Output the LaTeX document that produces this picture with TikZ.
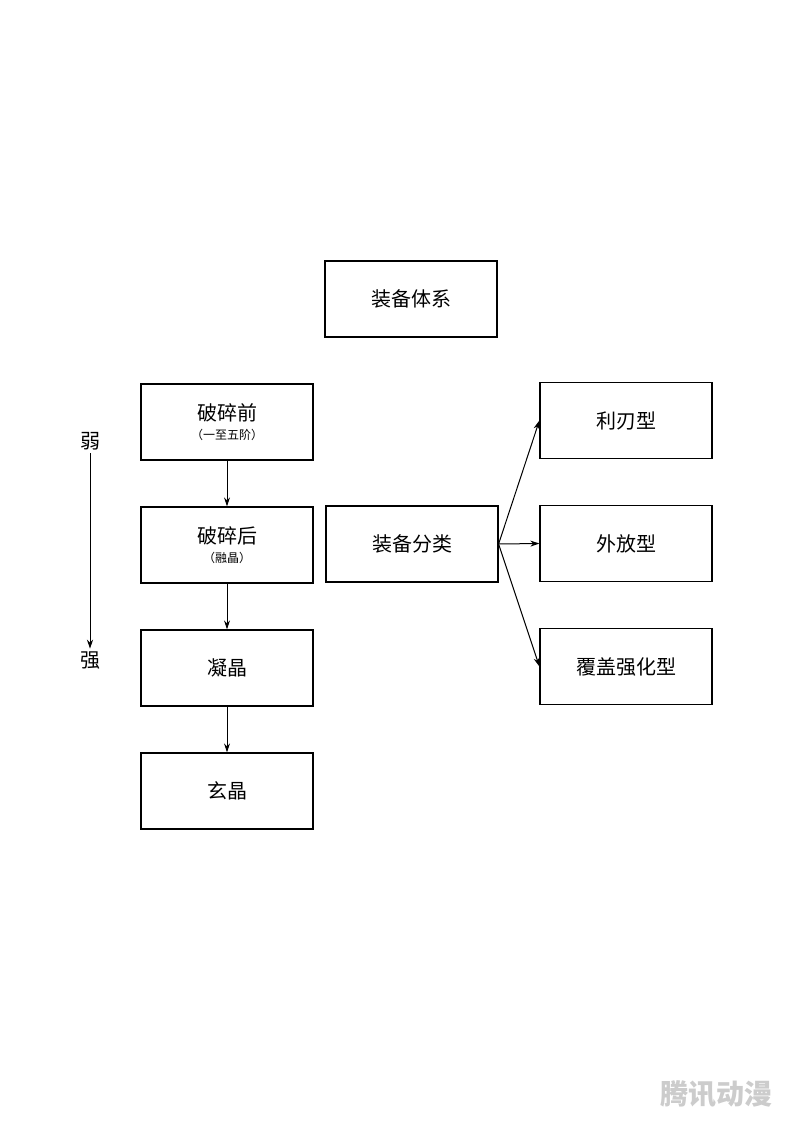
\documentclass[tikz,border=0pt]{standalone}
\usepackage{fontspec}
\newfontfamily\cjk{Noto Sans CJK SC}
\usetikzlibrary{arrows.meta}
\begin{document}
\begin{tikzpicture}[x=1pt,y=-1pt,
  box/.style={draw,line width=1.2pt,minimum width=172pt,minimum height=76pt,inner sep=0pt,align=center,font=\cjk\fontsize{20}{22}\selectfont},
  arr/.style={-{Stealth[length=9pt,width=6pt]},line width=1pt}]
\useasboundingbox (0,0) rectangle (800,1132);
\fill[white] (0,0) rectangle (800,1132);
\node[box] (sys) at (411,299) {装备体系};
\node[box] (a) at (227,422) {破碎前\\[-3pt]{\fontsize{12}{13}\selectfont（一至五阶）}};
\node[box] (b) at (227,545) {破碎后\\[-3pt]{\fontsize{12}{13}\selectfont（融晶）}};
\node[box] (c) at (227,668) {凝晶};
\node[box] (d) at (227,791) {玄晶};
\node[box] (cls) at (412,544) {装备分类};
\node[box] (r1) at (626,420.5) {利刃型};
\node[box] (r2) at (626,543.5) {外放型};
\node[box] (r3) at (626,666.5) {覆盖强化型};
\node[font=\cjk\fontsize{20}{22}\selectfont] (weak) at (90,441) {弱};
\node[font=\cjk\fontsize{20}{22}\selectfont] (strong) at (90,661) {强};
\draw[arr] (weak.south) -- (strong.north);
\draw[arr] (a) -- (b);
\draw[arr] (b) -- (c);
\draw[arr] (c) -- (d);
\coordinate (o) at (cls.east);
\draw[arr] (o) -- (r1.west);
\draw[arr] (o) -- (r2.west);
\draw[arr] (o) -- (r3.west);
\node[font=\cjk\bfseries\fontsize{28}{30}\selectfont,text=gray!40] (wm) at (716,1094) {腾讯动漫};
\end{tikzpicture}
\end{document}
